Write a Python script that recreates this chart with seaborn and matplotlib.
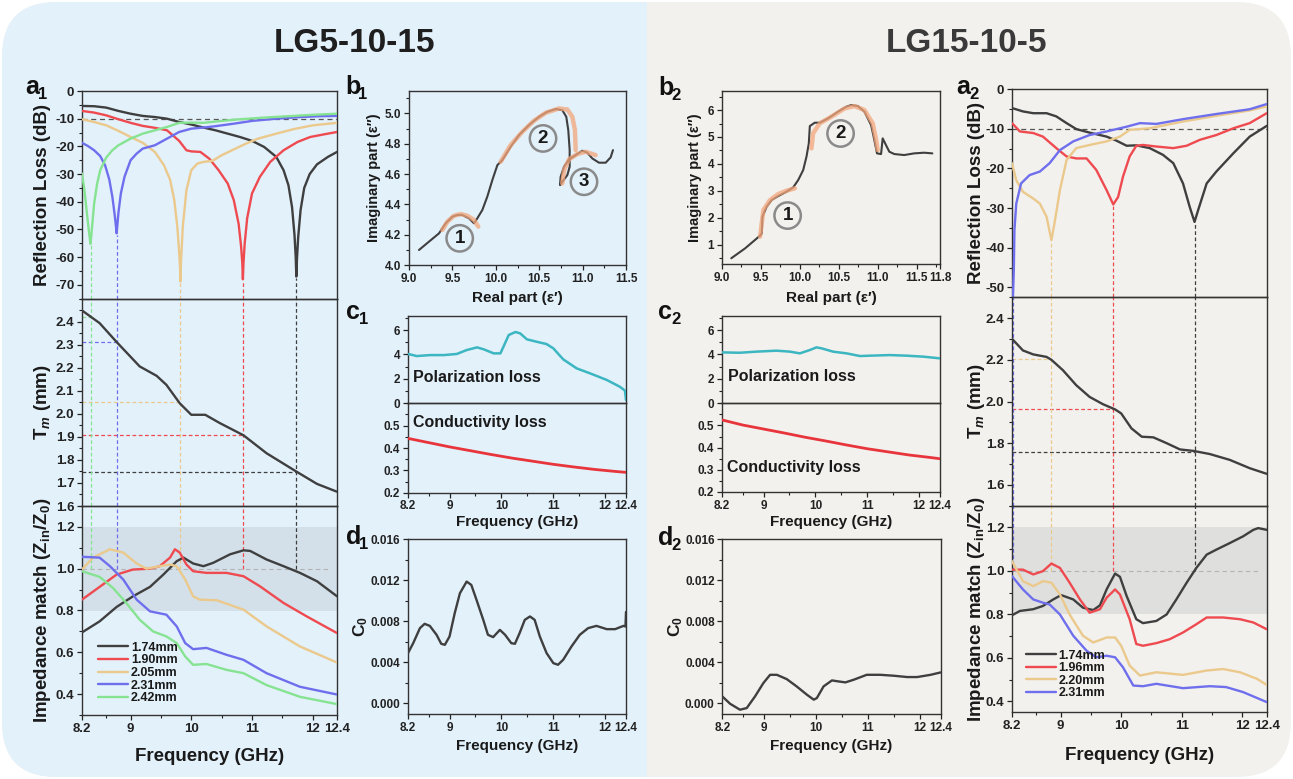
import seaborn as sns
import matplotlib.pyplot as plt
from matplotlib.patches import FancyBboxPatch, Rectangle
from matplotlib.ticker import MultipleLocator, FixedLocator, FormatStrFormatter

W, H = 1293, 779

# ---------------- LG5-10-15 (a1) ----------------
a1_labels = ['1.74mm', '1.90mm', '2.05mm', '2.31mm', '2.42mm']
a1_colors = ['#3f3f3f', '#ee4a50', '#ebc98c', '#6f6fee', '#86e391']

rl_a1_174_f = [8.2, 8.4, 8.6, 8.8, 9.0, 9.2, 9.4, 9.6, 9.8, 10.0, 10.2, 10.4, 10.6, 10.8, 11.0, 11.2, 11.4,
               11.52, 11.6, 11.66, 11.7, 11.72, 11.73, 11.74, 11.76, 11.8, 11.86, 11.95, 12.07, 12.25, 12.4]
rl_a1_174_db = [-5.4, -5.5, -6.0, -7.2, -8.2, -9.0, -9.4, -10.0, -11.2, -12.1, -13.2, -14.2, -15.4, -16.6, -18.0,
                -20.2, -23.8, -28.6, -34.0, -42.0, -52.0, -60.0, -67.0, -61.0, -53.0, -43.0, -35.0, -30.0,
                -26.5, -23.8, -22.0]
rl_a1_190_f = [8.2, 8.4, 8.6, 8.8, 9.0, 9.2, 9.4, 9.6, 9.8, 9.92, 10.0, 10.15, 10.3, 10.45, 10.6, 10.7, 10.78,
               10.82, 10.84, 10.85, 10.86, 10.88, 10.92, 11.0, 11.13, 11.3, 11.52, 11.75, 11.96, 12.2, 12.4]
rl_a1_190_db = [-7.2, -7.8, -8.8, -10.2, -11.5, -12.6, -13.3, -14.2, -18.0, -21.4, -21.8, -22.0, -24.5, -28.6,
                -33.4, -39.4, -48.0, -56.0, -62.0, -68.0, -62.0, -55.0, -46.0, -37.0, -31.0, -25.6, -21.4,
                -18.4, -16.6, -15.6, -14.8]
rl_a1_205_f = [8.2, 8.4, 8.6, 8.8, 9.0, 9.2, 9.4, 9.55, 9.65, 9.72, 9.77, 9.8, 9.815, 9.82, 9.83, 9.86, 9.92,
               10.0, 10.1, 10.2, 10.35, 10.5, 10.7, 10.9, 11.1, 11.4, 11.7, 12.0, 12.4]
rl_a1_205_db = [-10.2, -11.2, -12.4, -14.4, -16.6, -18.7, -22.0, -26.8, -32.0, -39.4, -49.0, -58.0, -64.0, -68.8,
                -62.0, -49.0, -35.8, -28.6, -26.2, -25.6, -25.2, -23.2, -21.1, -19.0, -17.2, -15.4, -13.7,
                -12.4, -11.5]
rl_a1_231_f = [8.2, 8.3, 8.4, 8.5, 8.58, 8.65, 8.7, 8.74, 8.76, 8.77, 8.78, 8.8, 8.84, 8.9, 9.0, 9.1, 9.2, 9.4,
               9.6, 9.8, 10.0, 10.2, 10.4, 10.7, 11.0, 11.4, 11.8, 12.1, 12.4]
rl_a1_231_db = [-18.7, -19.9, -21.4, -23.5, -26.8, -32.0, -38.2, -45.0, -49.0, -51.4, -49.0, -44.0, -37.0,
                -31.0, -25.0, -22.6, -20.8, -19.6, -17.2, -14.8, -13.6, -13.2, -12.7, -11.8, -10.8, -10.0,
                -9.4, -9.1, -9.0]
rl_a1_242_f = [8.2, 8.24, 8.28, 8.31, 8.33, 8.34, 8.35, 8.37, 8.4, 8.45, 8.5, 8.6, 8.7, 8.8, 9.0, 9.2, 9.4, 9.6,
               9.8, 10.0, 10.2, 10.5, 10.8, 11.2, 11.6, 12.0, 12.4]
rl_a1_242_db = [-29.8, -35.8, -44.0, -50.0, -53.5, -55.2, -53.0, -48.0, -40.6, -33.4, -28.6, -24.0, -21.4, -19.6,
                -17.2, -15.4, -14.2, -13.0, -11.5, -11.4, -11.5, -10.8, -10.2, -9.6, -9.1, -8.6, -8.2]

tm_a1_f = [8.2, 8.49, 8.77, 9.15, 9.43, 9.59, 9.81, 10.0, 10.23, 10.47, 10.86, 11.24, 11.74, 12.07, 12.4]
tm_a1 = [2.449, 2.394, 2.312, 2.206, 2.165, 2.126, 2.046, 1.996, 1.996, 1.96, 1.907, 1.829, 1.748, 1.696, 1.662]

z_a1_174_f = [8.2, 8.49, 8.77, 9.04, 9.32, 9.54, 9.76, 9.87, 10.03, 10.2, 10.36, 10.64, 10.86, 10.97, 11.24,
              11.52, 11.79, 12.07, 12.4]
z_a1_174 = [0.695, 0.748, 0.817, 0.868, 0.913, 0.972, 1.036, 1.053, 1.025, 1.012, 1.028, 1.069, 1.088, 1.085,
            1.044, 1.012, 0.98, 0.94, 0.868]
z_a1_190_f = [8.2, 8.49, 8.77, 9.04, 9.32, 9.48, 9.65, 9.73, 9.81, 9.92, 10.03, 10.25, 10.58, 10.86, 11.13,
              11.52, 11.9, 12.4]
z_a1_190 = [0.852, 0.913, 0.972, 0.996, 1.0, 1.012, 1.053, 1.093, 1.077, 1.02, 0.988, 0.98, 0.98, 0.964, 0.916,
            0.836, 0.772, 0.692]
z_a1_205_f = [8.2, 8.38, 8.66, 8.88, 9.10, 9.26, 9.48, 9.65, 9.76, 9.90, 10.03, 10.14, 10.42, 10.86, 11.24,
              11.79, 12.4]
z_a1_205 = [0.996, 1.053, 1.093, 1.077, 1.025, 1.0, 1.012, 1.02, 1.012, 0.948, 0.868, 0.852, 0.849, 0.804,
            0.724, 0.628, 0.551]
z_a1_231_f = [8.2, 8.49, 8.66, 8.88, 9.10, 9.32, 9.59, 9.76, 9.90, 10.03, 10.25, 10.58, 10.86, 11.24, 11.79, 12.4]
z_a1_231 = [1.057, 1.053, 1.012, 0.948, 0.852, 0.796, 0.78, 0.724, 0.644, 0.615, 0.621, 0.588, 0.564, 0.5,
            0.435, 0.398]
z_a1_242_f = [8.2, 8.49, 8.71, 8.93, 9.15, 9.37, 9.59, 9.76, 9.90, 10.03, 10.25, 10.58, 10.86, 11.24, 11.79, 12.4]
z_a1_242 = [0.988, 0.961, 0.908, 0.836, 0.756, 0.70, 0.676, 0.644, 0.58, 0.54, 0.544, 0.516, 0.5, 0.443,
            0.387, 0.352]

a1_dip_f = [11.73, 10.85, 9.82, 8.77, 8.34]
a1_dip_db = [-67.0, -68.0, -68.8, -51.4, -55.2]
a1_dip_tm = [1.746, 1.907, 2.053, 2.312, 2.42]

# ---------------- LG15-10-5 (a2) ----------------
a2_labels = ['1.74mm', '1.96mm', '2.20mm', '2.31mm']
a2_colors = ['#3f3f3f', '#ee4a50', '#ebc98c', '#6f6fee']

rl_a2_174_f = [8.2, 8.38, 8.55, 8.77, 8.93, 9.10, 9.26, 9.48, 9.76, 9.92, 10.09, 10.25, 10.47, 10.69, 10.86,
               11.02, 11.13, 11.21, 11.27, 11.41, 11.57, 11.85, 12.12, 12.4]
rl_a2_174_db = [-4.8, -5.65, -6.1, -6.1, -6.9, -8.6, -10.1, -11.0, -12.0, -13.0, -14.3, -14.2, -14.9, -16.6,
                -18.7, -23.8, -29.7, -33.5, -30.5, -23.8, -20.8, -16.2, -12.0, -9.3]
rl_a2_196_f = [8.2, 8.33, 8.55, 8.71, 8.93, 9.10, 9.26, 9.43, 9.59, 9.76, 9.87, 9.95, 10.03, 10.14, 10.25,
               10.36, 10.58, 10.86, 11.08, 11.3, 11.57, 11.85, 12.12, 12.4]
rl_a2_196_db = [-8.6, -10.7, -11.1, -12.0, -14.9, -17.0, -17.5, -17.5, -20.4, -25.5, -29.1, -27.2, -22.1, -17.0,
                -14.3, -14.1, -14.5, -14.9, -14.3, -12.8, -11.6, -9.9, -8.6, -6.1]
rl_a2_220_f = [8.2, 8.27, 8.38, 8.55, 8.66, 8.77, 8.85, 8.9, 8.99, 9.10, 9.26, 9.48, 9.76, 9.98, 10.14, 10.47,
               11.02, 11.57, 12.12, 12.4]
rl_a2_220_db = [-18.7, -23.0, -25.9, -27.6, -28.9, -32.2, -38.1, -33.9, -25.5, -17.9, -14.9, -14.1, -13.2, -12.0,
                -10.3, -9.9, -8.2, -6.75, -5.4, -4.4]
rl_a2_231_f = [8.2, 8.23, 8.24, 8.27, 8.35, 8.49, 8.66, 8.82, 8.99, 9.21, 9.48, 9.76, 10.09, 10.31, 10.58,
               11.02, 11.57, 12.12, 12.4]
rl_a2_231_db = [-60.0, -45.7, -35.6, -28.9, -23.8, -21.7, -20.8, -18.7, -15.4, -13.2, -11.6, -10.7, -9.5, -8.6,
                -8.8, -7.6, -6.3, -5.1, -3.8]

tm_a2_f = [8.2, 8.38, 8.55, 8.77, 8.85, 9.04, 9.26, 9.48, 9.70, 9.9, 10.0, 10.17, 10.34, 10.53, 10.75, 10.97,
           11.19, 11.46, 11.79, 12.12, 12.4]
tm_a2 = [2.301, 2.245, 2.226, 2.214, 2.20, 2.15, 2.078, 2.022, 1.987, 1.962, 1.943, 1.871, 1.831, 1.828, 1.80,
         1.77, 1.763, 1.748, 1.72, 1.68, 1.653]

z_a2_174_f = [8.2, 8.33, 8.55, 8.71, 8.88, 9.01, 9.21, 9.37, 9.54, 9.65, 9.76, 9.9, 9.98, 10.09, 10.25, 10.36,
              10.58, 10.75, 10.91, 11.08, 11.24, 11.41, 11.57, 11.79, 12.01, 12.18, 12.26, 12.4]
z_a2_174 = [0.796, 0.816, 0.824, 0.839, 0.869, 0.889, 0.869, 0.831, 0.82, 0.842, 0.915, 0.988, 0.973, 0.885,
            0.778, 0.76, 0.77, 0.80, 0.869, 0.946, 1.014, 1.075, 1.098, 1.128, 1.159, 1.189, 1.197, 1.189]
z_a2_196_f = [8.2, 8.38, 8.55, 8.71, 8.85, 8.99, 9.15, 9.32, 9.48, 9.65, 9.76, 9.9, 9.98, 10.14, 10.25, 10.36,
              10.58, 10.8, 11.02, 11.24, 11.41, 11.68, 11.96, 12.18, 12.4]
z_a2_196 = [1.006, 1.006, 0.984, 0.999, 1.034, 1.014, 0.946, 0.869, 0.808, 0.824, 0.877, 0.915, 0.892, 0.778,
            0.664, 0.656, 0.668, 0.686, 0.717, 0.755, 0.786, 0.786, 0.778, 0.763, 0.732]
z_a2_220_f = [8.2, 8.38, 8.55, 8.71, 8.85, 8.99, 9.15, 9.37, 9.54, 9.76, 9.9, 10.0, 10.14, 10.31, 10.58, 11.02,
              11.41, 11.68, 11.96, 12.24, 12.4]
z_a2_220 = [1.045, 0.953, 0.930, 0.953, 0.946, 0.892, 0.80, 0.702, 0.671, 0.694, 0.694, 0.656, 0.565, 0.519,
            0.534, 0.522, 0.542, 0.549, 0.534, 0.504, 0.476]
z_a2_231_f = [8.2, 8.38, 8.55, 8.71, 8.82, 8.99, 9.21, 9.43, 9.59, 9.76, 9.9, 10.03, 10.2, 10.36, 10.58, 11.02,
              11.46, 11.73, 12.01, 12.4]
z_a2_231 = [0.976, 0.915, 0.869, 0.854, 0.846, 0.80, 0.702, 0.633, 0.603, 0.610, 0.603, 0.557, 0.473, 0.470,
            0.481, 0.461, 0.470, 0.466, 0.443, 0.397]

a2_dip_f = [11.21, 9.87, 8.85, 8.21]
a2_dip_db = [-33.5, -29.1, -38.1, -52.5]
a2_dip_tm = [1.756, 1.963, 2.206, 2.30]

# ---------------- Cole-Cole (b1, b2) ----------------
b1_real = [9.115, 9.23, 9.346, 9.422, 9.50, 9.557, 9.614, 9.691, 9.749, 9.787, 9.845, 9.902, 9.96, 10.018,
           10.075, 10.171, 10.267, 10.382, 10.498, 10.594, 10.69, 10.766, 10.812, 10.835, 10.851, 10.851, 10.824,
           10.766, 10.74, 10.747, 10.786, 10.843, 10.92, 10.997, 11.054, 11.112, 11.189, 11.266, 11.323, 11.35]
b1_imag = [4.099, 4.154, 4.209, 4.275, 4.319, 4.33, 4.33, 4.308, 4.275, 4.308, 4.363, 4.451, 4.56, 4.659, 4.692,
           4.78, 4.857, 4.923, 4.978, 5.011, 5.029, 5.022, 4.978, 4.89, 4.758, 4.648, 4.593, 4.549, 4.527, 4.582,
           4.648, 4.697, 4.725, 4.754, 4.741, 4.703, 4.675, 4.675, 4.71, 4.758]
b1_fit1_real = [9.384, 9.442, 9.518, 9.595, 9.672, 9.749, 9.799]
b1_fit1_imag = [4.231, 4.286, 4.325, 4.336, 4.325, 4.297, 4.253]
b1_fit2_real = [10.056, 10.171, 10.306, 10.44, 10.574, 10.728, 10.824, 10.882, 10.912, 10.92]
b1_fit2_imag = [4.681, 4.791, 4.879, 4.952, 5.004, 5.033, 5.026, 4.978, 4.89, 4.758]
b1_fit3_real = [10.766, 10.786, 10.843, 10.939, 11.035, 11.15]
b1_fit3_imag = [4.538, 4.626, 4.697, 4.732, 4.747, 4.725]
b1_marks = ['1', '2', '3']
b1_mark_real = [9.584, 10.544, 11.016]
b1_mark_imag = [4.176, 4.835, 4.549]

b2_real = [9.119, 9.298, 9.489, 9.511, 9.519, 9.574, 9.638, 9.723, 9.83, 9.915, 9.979, 10.043, 10.085, 10.115,
           10.128, 10.191, 10.255, 10.362, 10.489, 10.596, 10.66, 10.745, 10.83, 10.915, 10.957, 10.991, 11.043,
           11.064, 11.106, 11.149, 11.213, 11.34, 11.468, 11.596, 11.702]
b2_imag = [0.493, 0.864, 1.334, 1.421, 2.04, 2.411, 2.658, 2.807, 2.968, 3.129, 3.401, 3.772, 4.267, 4.762,
           5.406, 5.53, 5.53, 5.691, 5.938, 6.124, 6.186, 6.149, 5.938, 5.443, 4.886, 4.391, 4.366, 4.948, 4.70,
           4.453, 4.366, 4.329, 4.391, 4.416, 4.391]
b2_fit1_real = [9.489, 9.532, 9.617, 9.723, 9.83, 9.936]
b2_fit1_imag = [1.297, 2.287, 2.658, 2.881, 3.005, 3.092]
b2_fit2_real = [10.149, 10.17, 10.255, 10.404, 10.574, 10.702, 10.83, 10.936, 10.979, 11.0]
b2_fit2_imag = [4.577, 5.134, 5.505, 5.752, 6.062, 6.149, 6.0, 5.505, 4.886, 4.515]
b2_marks = ['1', '2']
b2_mark_real = [9.843, 10.523]
b2_mark_imag = [2.08, 5.13]

# ---------------- loss contributions (c1, c2) ----------------
c1_pol_f = [8.2, 8.37, 8.63, 8.89, 9.14, 9.33, 9.53, 9.66, 9.85, 9.98, 10.04, 10.14, 10.27, 10.36, 10.49, 10.68,
            10.87, 11.0, 11.19, 11.45, 11.71, 12.03, 12.28, 12.38, 12.4]
c1_pol = [4.04, 3.87, 3.95, 3.95, 4.04, 4.36, 4.58, 4.42, 4.09, 4.09, 4.64, 5.59, 5.84, 5.73, 5.24, 5.04, 4.85,
          4.5, 3.6, 2.86, 2.45, 1.91, 1.36, 1.04, 0.27]
cond_f = [8.2, 8.6, 9.0, 9.4, 9.8, 10.2, 10.6, 11.0, 11.4, 11.8, 12.2, 12.4]
c1_cond = [0.443, 0.424, 0.405, 0.388, 0.371, 0.355, 0.341, 0.327, 0.315, 0.304, 0.295, 0.291]
c2_pol_f = [8.2, 8.54, 8.86, 9.25, 9.51, 9.70, 9.89, 10.02, 10.12, 10.34, 10.6, 10.86, 11.05, 11.43, 11.76,
            12.08, 12.4]
c2_pol = [4.17, 4.14, 4.23, 4.31, 4.23, 4.09, 4.36, 4.58, 4.5, 4.23, 4.09, 3.87, 3.9, 3.95, 3.9, 3.82, 3.68]
c2_cond = [0.525, 0.502, 0.484, 0.466, 0.447, 0.430, 0.412, 0.395, 0.381, 0.367, 0.356, 0.350]

# ---------------- C0 (d1, d2) ----------------
d1_f = [8.2, 8.30, 8.43, 8.52, 8.62, 8.75, 8.84, 8.91, 9.0, 9.10, 9.20, 9.33, 9.42, 9.52, 9.65, 9.74, 9.84, 9.97,
        10.07, 10.19, 10.26, 10.35, 10.45, 10.55, 10.64, 10.74, 10.87, 11.0, 11.09, 11.19, 11.35, 11.51, 11.67,
        11.83, 12.03, 12.19, 12.35, 12.39, 12.4]
d1_c0 = [0.00488, 0.00585, 0.00732, 0.00774, 0.00754, 0.00667, 0.00579, 0.00569, 0.0065, 0.00878, 0.01073,
         0.01187, 0.01154, 0.01008, 0.00813, 0.00667, 0.00644, 0.00715, 0.00667, 0.00585, 0.00579, 0.00683,
         0.00813, 0.00846, 0.00813, 0.0065, 0.00488, 0.0039, 0.00374, 0.00423, 0.00553, 0.00667, 0.00732,
         0.00754, 0.00722, 0.00722, 0.00754, 0.00748, 0.0089]
d2_f = [8.2, 8.35, 8.54, 8.67, 8.83, 8.99, 9.12, 9.25, 9.44, 9.63, 9.83, 9.96, 10.02, 10.15, 10.31, 10.44, 10.57,
        10.73, 10.98, 11.24, 11.5, 11.76, 11.95, 12.21, 12.4]
d2_c0 = [0.00065, -0.00007, -0.00065, -0.00049, 0.00065, 0.00195, 0.00276, 0.00276, 0.00234, 0.00163, 0.00081,
         0.00033, 0.00049, 0.00163, 0.00221, 0.00211, 0.00202, 0.00228, 0.00276, 0.00276, 0.00267, 0.00254,
         0.00254, 0.00276, 0.00299]

freq_ticks = [8.2, 9, 10, 11, 12, 12.4]
freq_tick_labels = ['8.2', '9', '10', '11', '12', '12.4']

BLUE_BG = '#e3f1fb'
GRAY_BG = '#f2f1ed'
DARK = '#3f3f3f'

sns.set_style('ticks')
plt.rcParams.update({
    'font.family': ['Liberation Sans', 'DejaVu Sans'],
    'font.weight': 'bold',
    'axes.labelweight': 'bold',
    'axes.unicode_minus': False,
    'mathtext.fontset': 'custom',
    'mathtext.rm': 'Liberation Sans:bold',
    'mathtext.it': 'Liberation Sans:italic:bold',
    'mathtext.bf': 'Liberation Sans:bold',
    'text.color': '#1a1a1a',
    'axes.labelcolor': '#1a1a1a',
    'xtick.color': '#222222',
    'ytick.color': '#222222',
})

fig = plt.figure(figsize=(W / 100, H / 100), dpi=100)

# background panels in pixel units
bg = fig.add_axes([0, 0, 1, 1], zorder=-10)
bg.set_xlim(0, W)
bg.set_ylim(H, 0)
bg.axis('off')
bg.add_patch(FancyBboxPatch((2, 2), W - 4, H - 4, boxstyle='round,pad=0,rounding_size=55', fc=GRAY_BG, ec='none'))
bg.add_patch(FancyBboxPatch((2, 2), 760, H - 4, boxstyle='round,pad=0,rounding_size=55', fc=BLUE_BG, ec='none'))
bg.add_patch(Rectangle((647, 2), 140, H - 4, fc=GRAY_BG, ec='none'))
bg.text(354, 43, 'LG5-10-15', ha='center', va='center', fontsize=24, color='#1f1f1f')
bg.text(967, 43, 'LG15-10-5', ha='center', va='center', fontsize=24, color='#3a3a3a')
for letter, sub, x, y in [('a', '1', 25, 94), ('b', '1', 345, 94), ('c', '1', 346, 319), ('d', '1', 346, 544),
                          ('b', '2', 658, 95), ('c', '2', 658, 319), ('d', '2', 658, 545), ('a', '2', 956, 94)]:
    bg.text(x, y, letter, fontsize=18, va='baseline', ha='left', color='#111111')
    bg.text(x + 13, y + 5, sub, fontsize=12, va='baseline', ha='left', color='#111111')


def add_ax(x0, y0, x1, y1, tick_size=9.5):
    ax = fig.add_axes([x0 / W, 1 - y1 / H, (x1 - x0) / W, (y1 - y0) / H])
    ax.set_facecolor('none')
    for s in ax.spines.values():
        s.set_visible(True)
        s.set_color('#333333')
        s.set_linewidth(1.0)
    ax.tick_params(which='major', direction='out', length=3.5, width=0.9, labelsize=tick_size, pad=2)
    ax.tick_params(which='minor', direction='out', length=2, width=0.8)
    return ax


def freq_axis(ax, show=True):
    ax.set_xlim(8.2, 12.4)
    ax.set_xticks(freq_ticks)
    ax.set_xticklabels(freq_tick_labels)
    ax.xaxis.set_minor_locator(FixedLocator([8.6, 9.5, 10.5, 11.5]))
    if not show:
        ax.tick_params(axis='x', which='both', bottom=False, labelbottom=False)


def line(ax, x, y, color, lw=1.7, label=None, alpha=1.0, zorder=3):
    sns.lineplot(x=x, y=y, ax=ax, color=color, lw=lw, sort=False, estimator=None,
                 label=label, alpha=alpha, zorder=zorder)


def ylab(ax, text, xpos, size=13.5):
    ax.set_ylabel(text, fontsize=size)
    ax.yaxis.set_label_coords(xpos, 0.5)
    ax.yaxis.label.set_va('center')


def xlab(ax, text, ypos, size=13.5):
    ax.set_xlabel(text, fontsize=size)
    ax.xaxis.set_label_coords(0.5, ypos)
    ax.xaxis.label.set_va('center')


def a_column(x0, x1, ys, rl_series, tm_f, tm_v, z_series, labels, colors, dip_f, dip_db, dip_tm,
             rl_lim, rl_ticks, tm_lim, tm_ticks, z_bottom, lab_x, xl_y, leg_anchor):
    rl = add_ax(x0, ys[0], x1, ys[1])
    tm = add_ax(x0, ys[1], x1, ys[2])
    zz = add_ax(x0, ys[2], x1, ys[3])
    for f, v, c in rl_series:
        line(rl, f, v, c)
    rl.axhline(-10, color='#555555', lw=0.9, ls=(0, (4, 3)), zorder=2)
    rl.set_ylim(*rl_lim)
    rl.set_yticks(rl_ticks)
    rl.yaxis.set_minor_locator(MultipleLocator(5))
    freq_axis(rl, show=False)
    ylab(rl, 'Reflection Loss (dB)', lab_x)

    line(tm, tm_f, tm_v, DARK)
    tm.set_ylim(*tm_lim)
    tm.yaxis.set_major_locator(FixedLocator(tm_ticks))
    tm.yaxis.set_minor_locator(MultipleLocator((tm_ticks[1] - tm_ticks[0]) / 2))
    tm.yaxis.set_major_formatter(FormatStrFormatter('%.1f'))
    freq_axis(tm, show=False)
    ylab(tm, r'T$_{\mathit{m}}$ (mm)', lab_x)

    zz.axhspan(0.8, 1.2, color='#969ca2', alpha=0.2, lw=0, zorder=0)
    zz.axhline(1.0, xmax=0.97, color='#b3b3b3', lw=0.8, ls=(0, (4, 3)), zorder=1)
    for (f, v), c, lb in zip(z_series, colors, labels):
        line(zz, f, v, c, label=lb)
    zz.set_ylim(z_bottom, 1.3)
    zz.yaxis.set_major_locator(FixedLocator([0.4, 0.6, 0.8, 1.0, 1.2]))
    zz.yaxis.set_minor_locator(MultipleLocator(0.1))
    zz.yaxis.set_major_formatter(FormatStrFormatter('%.1f'))
    freq_axis(zz)
    ylab(zz, r'Impedance match (Z$_{\mathrm{in}}$/Z$_{\mathrm{0}}$)', lab_x)
    xlab(zz, 'Frequency (GHz)', xl_y)
    zz.legend(loc='lower left', bbox_to_anchor=leg_anchor, frameon=False, fontsize=9,
              handlelength=2.4, handletextpad=0.2, labelspacing=0.05, borderpad=0.2)

    # guide lines from each absorption peak
    for f, db, t, c in zip(dip_f, dip_db, dip_tm, colors):
        rl.vlines(f, rl_lim[0], db - 0.5, color=c, lw=0.9, ls=(0, (3, 2)), zorder=2)
        tm.vlines(f, tm_lim[0], tm_lim[1], color=c, lw=0.9, ls=(0, (3, 2)), zorder=2)
        tm.hlines(t, 8.2, f, color=c, lw=0.9, ls=(0, (3, 2)), zorder=2)
        zz.vlines(f, 1.0, 1.3, color=c, lw=0.9, ls=(0, (3, 2)), zorder=2)


z_a1 = [(z_a1_174_f, z_a1_174), (z_a1_190_f, z_a1_190), (z_a1_205_f, z_a1_205),
        (z_a1_231_f, z_a1_231), (z_a1_242_f, z_a1_242)]
z_a2 = [(z_a2_174_f, z_a2_174), (z_a2_196_f, z_a2_196), (z_a2_220_f, z_a2_220), (z_a2_231_f, z_a2_231)]

a_column(82, 337, [91, 298.7, 506, 715],
         list(zip([rl_a1_174_f, rl_a1_190_f, rl_a1_205_f, rl_a1_231_f, rl_a1_242_f],
                  [rl_a1_174_db, rl_a1_190_db, rl_a1_205_db, rl_a1_231_db, rl_a1_242_db], a1_colors)),
         tm_a1_f, tm_a1, z_a1, a1_labels, a1_colors, a1_dip_f, a1_dip_db, a1_dip_tm,
         (-75, 0), list(range(-70, 1, 10)), (1.6, 2.5), [1.6, 1.7, 1.8, 1.9, 2.0, 2.1, 2.2, 2.3, 2.4], 0.3,
         -0.153, -0.2, (0.03, 0.01))

a_column(1012, 1266.7, [89, 297.3, 505.7, 712.3],
         list(zip([rl_a2_174_f, rl_a2_196_f, rl_a2_220_f, rl_a2_231_f],
                  [rl_a2_174_db, rl_a2_196_db, rl_a2_220_db, rl_a2_231_db], a2_colors)),
         tm_a2_f, tm_a2, z_a2, a2_labels, a2_colors, a2_dip_f, a2_dip_db, a2_dip_tm,
         (-52.5, 0), list(range(-50, 1, 10)), (1.5, 2.5), [1.6, 1.8, 2.0, 2.2, 2.4], 0.35,
         -0.139, -0.207, (0.02, 0.02))

# ---------------- b panels ----------------
ORANGE = '#f3a57a'


def b_panel(x0, y0, x1, y1, real, imag, fits, marks, mreal, mimag, xlim, xticks, xtl, ylim, yticks, yfmt,
            lab_x, xl_y):
    ax = add_ax(x0, y0, x1, y1, tick_size=8.5)
    line(ax, real, imag, DARK, lw=1.5)
    for fr, fi in fits:
        line(ax, fr, fi, ORANGE, lw=3.2, alpha=0.75, zorder=4)
    for m, mx, my in zip(marks, mreal, mimag):
        ax.text(mx, my, m, ha='center', va='center', fontsize=13.5, zorder=5,
                bbox=dict(boxstyle='circle,pad=0.25', fc='none', ec='#8a8a8a', lw=1.8))
    ax.set_xlim(*xlim)
    ax.set_xticks(xticks)
    ax.set_xticklabels(xtl)
    ax.xaxis.set_minor_locator(MultipleLocator(0.25))
    ax.set_ylim(*ylim)
    ax.set_yticks(yticks)
    ax.yaxis.set_minor_locator(MultipleLocator((yticks[1] - yticks[0]) / 2))
    ax.yaxis.set_major_formatter(FormatStrFormatter(yfmt))
    ylab(ax, 'Imaginary part (ε″)', lab_x, size=10.5)
    xlab(ax, 'Real part (ε′)', xl_y, size=11)


b_panel(409, 90.7, 626, 265, b1_real, b1_imag,
        [(b1_fit1_real, b1_fit1_imag), (b1_fit2_real, b1_fit2_imag), (b1_fit3_real, b1_fit3_imag)],
        b1_marks, b1_mark_real, b1_mark_imag, (9.0, 11.5), [9.0, 9.5, 10.0, 10.5, 11.0, 11.5],
        ['9.0', '9.5', '10.0', '10.5', '11.0', '11.5'], (4.0, 5.15), [4.0, 4.2, 4.4, 4.6, 4.8, 5.0], '%.1f',
        -0.16, -0.191)
b_panel(722, 90.7, 940, 264, b2_real, b2_imag,
        [(b2_fit1_real, b2_fit1_imag), (b2_fit2_real, b2_fit2_imag)],
        b2_marks, b2_mark_real, b2_mark_imag, (9.0, 11.8), [9.0, 9.5, 10.0, 10.5, 11.0, 11.5, 11.8],
        ['9.0', '9.5', '10.0', '10.5', '11.0', '11.5', '11.8'], (0.28, 6.72), [1, 2, 3, 4, 5, 6], '%d',
        -0.124, -0.198)

# ---------------- c panels ----------------
TEAL = '#3cb6c1'
COND_RED = '#e8353c'


def c_panel(x0, x1, ybot, pol_f, pol, cond, pol_pos, cond_pos):
    top = add_ax(x0, 316, x1, 403.3, tick_size=8.5)
    bot = add_ax(x0, 403.3, x1, ybot, tick_size=8.5)
    line(top, pol_f, pol, TEAL, lw=1.8)
    top.set_ylim(0, 7.15)
    top.set_yticks([0, 2, 4, 6])
    top.yaxis.set_minor_locator(MultipleLocator(1))
    freq_axis(top, show=False)
    top.text(*pol_pos, 'Polarization loss', transform=top.transAxes, fontsize=11.5, va='center')
    line(bot, cond_f, cond, COND_RED, lw=2.0)
    bot.set_ylim(0.2, 0.6)
    bot.set_yticks([0.2, 0.3, 0.4, 0.5])
    bot.yaxis.set_minor_locator(MultipleLocator(0.05))
    bot.yaxis.set_major_formatter(FormatStrFormatter('%.1f'))
    freq_axis(bot)
    bot.text(*cond_pos, 'Conductivity loss', transform=bot.transAxes, fontsize=11.5, va='center')
    xlab(bot, 'Frequency (GHz)', -(521.7 - ybot) / (ybot - 403.3), size=11)


c_panel(408, 626, 492.7, c1_pol_f, c1_pol, c1_cond, (0.024, 0.293), (0.021, 0.783))
c_panel(722, 940, 492, c2_pol_f, c2_pol, c2_cond, (0.026, 0.305), (0.024, 0.274))

# ---------------- d panels ----------------


def d_panel(x0, x1, f, c0, lab_x):
    ax = add_ax(x0, 539.3, x1, 714, tick_size=8.5)
    line(ax, f, c0, DARK, lw=1.7)
    ax.set_ylim(-0.00107, 0.016)
    ax.set_yticks([0.0, 0.004, 0.008, 0.012, 0.016])
    ax.yaxis.set_minor_locator(MultipleLocator(0.002))
    ax.yaxis.set_major_formatter(FormatStrFormatter('%.3f'))
    freq_axis(ax)
    ylab(ax, r'C$_{\mathrm{0}}$', lab_x, size=12.5)
    xlab(ax, 'Frequency (GHz)', -0.181, size=11)


d_panel(408, 626, d1_f, d1_c0, -0.215)
d_panel(722.3, 940.5, d2_f, d2_c0, -0.215)

fig.savefig('out.png', dpi=100)
